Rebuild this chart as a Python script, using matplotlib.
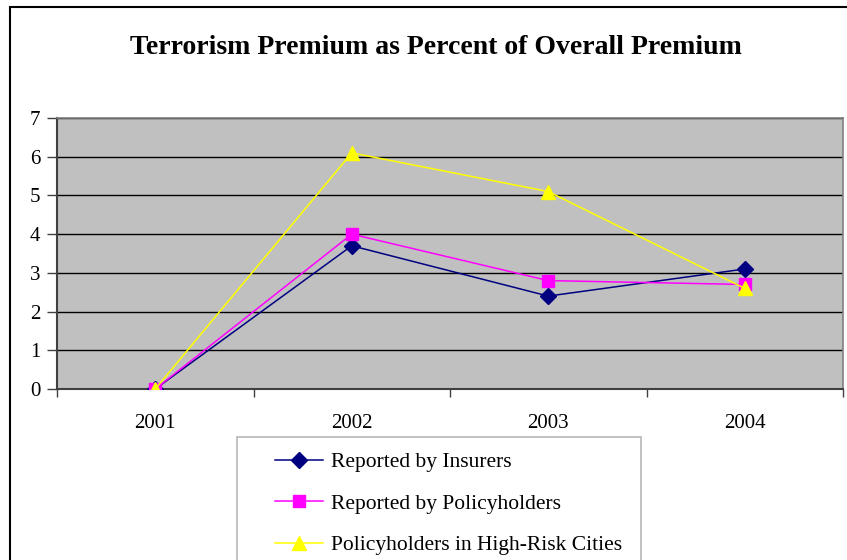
import matplotlib
matplotlib.use('Agg')
import matplotlib.pyplot as plt
from matplotlib.patches import Rectangle

# Data
years = ['2001', '2002', '2003', '2004']
insurers = [0.0, 3.7, 2.4, 3.1]
policyholders = [0.0, 4.0, 2.8, 2.7]
high_risk = [0.0, 6.1, 5.1, 2.6]
y_ticks = [0, 1, 2, 3, 4, 5, 6, 7]

plt.rcParams['font.family'] = ['Liberation Serif', 'DejaVu Serif']

fig = plt.figure(figsize=(8.47, 5.60), dpi=100)
fig.patch.set_facecolor('white')

# outer chart border (only top and left visible in the crop)
fig.patches.append(Rectangle((10 / 847, -0.1), 1.2, 0.9875 + 0.1,
                             transform=fig.transFigure, fill=False,
                             edgecolor='black', linewidth=1.5))

# legend box (drawn separately so the entries can sit with wide inner margin)
fig.patches.append(Rectangle((237 / 847, -0.1), (641 - 237) / 847, 1 - 437 / 560 + 0.1,
                             transform=fig.transFigure, fill=False,
                             edgecolor='#b8b8b8', linewidth=1.2))

ax = fig.add_axes([57 / 847, 1 - 389 / 560, (843 - 57) / 847, (389 - 118) / 560])
ax.set_facecolor('#c0c0c0')

x = list(range(len(years)))
ax.plot(x, insurers, color='#000080', linewidth=1.1, marker='D', markersize=8,
        markerfacecolor='#000080', markeredgecolor='#000080', label='Reported by Insurers', zorder=3)
ax.plot(x, policyholders, color='#ff00ff', linewidth=1.1, marker='s', markersize=8.5,
        markerfacecolor='#ff00ff', markeredgecolor='#ff00ff', label='Reported by Policyholders', zorder=4)
ax.plot(x, high_risk, color='#ffff00', linewidth=1.1, marker='^', markersize=10,
        markerfacecolor='#ffff00', markeredgecolor='#ffff00', label='Policyholders in High-Risk Cities', zorder=5)

ax.set_xlim(-0.5, len(years) - 0.5)
ax.set_ylim(0, 7)
ax.set_yticks(y_ticks)
ax.set_xticks(x)
ax.set_xticklabels(years)
ax.set_xticks([i - 0.5 for i in range(len(years) + 1)], minor=True)

ax.yaxis.grid(True, color='black', linewidth=1)
ax.set_axisbelow(True)

ax.tick_params(axis='x', which='major', length=0, pad=18, labelsize=15)
ax.tick_params(axis='x', which='minor', length=6, width=1, color='#404040', direction='out')
ax.tick_params(axis='y', length=7, width=1, color='#404040', direction='out', pad=5, labelsize=15)

for side in ['left', 'bottom']:
    ax.spines[side].set_color('#404040')
    ax.spines[side].set_linewidth(1.5)
for side in ['top', 'right']:
    ax.spines[side].set_color('#808080')
    ax.spines[side].set_linewidth(1.2)

fig.text(436 / 847, 1 - 47 / 560, 'Terrorism Premium as Percent of Overall Premium',
         ha='center', va='center', fontsize=20, fontweight='bold')

leg = ax.legend(loc='upper left', bbox_to_anchor=(275 / 847, 1 - 452 / 560),
                bbox_transform=fig.transFigure, fontsize=15.5, frameon=False,
                borderpad=0, labelspacing=1.0, handlelength=2.25,
                handletextpad=0.35, borderaxespad=0)

fig.savefig('out.png', dpi=100)
